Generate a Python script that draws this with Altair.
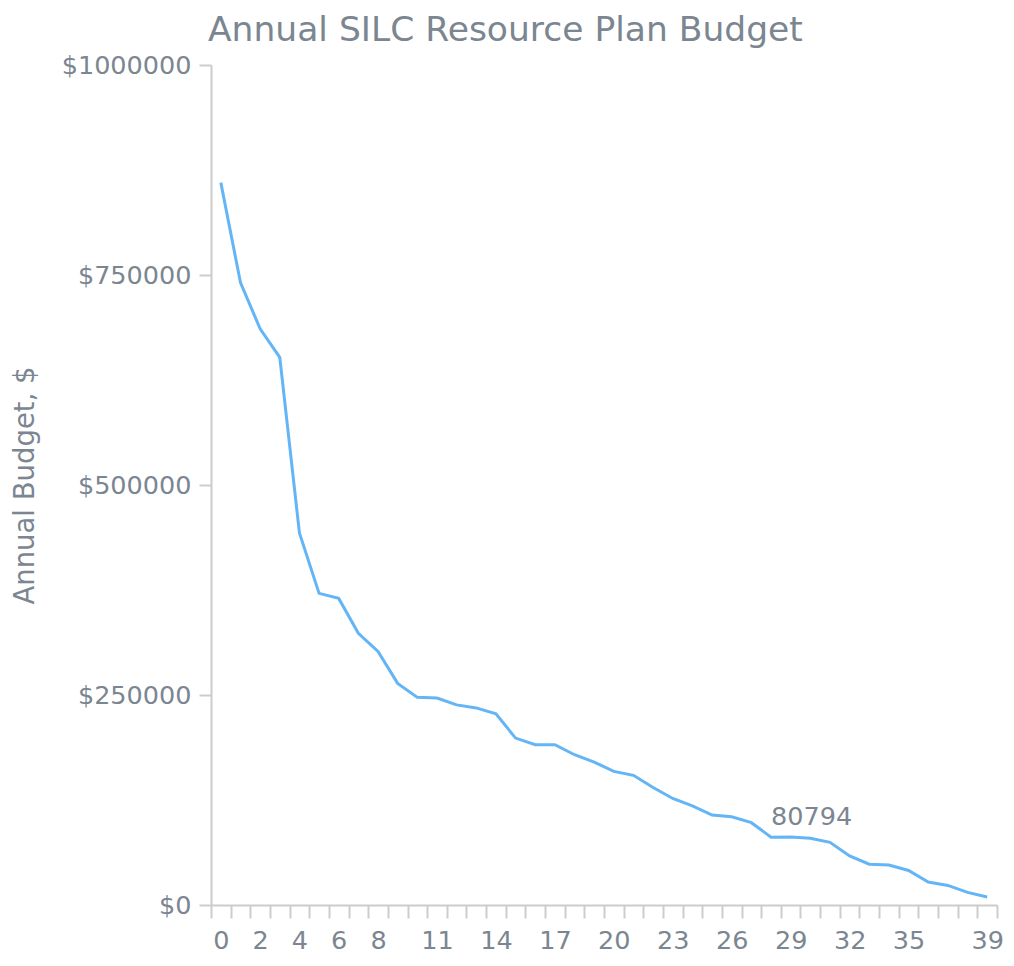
import altair as alt
import pandas as pd

# Data
index = list(range(40))
budget = [860000, 741000, 686000, 652000, 443000, 371000, 365000, 323500, 301800, 263800,
          247200, 246400, 238200, 234600, 227500, 198700, 190800, 190800, 178900, 170200,
          159100, 154400, 139800, 126800, 118000, 107000, 105100, 98000, 80794, 81000,
          79500, 74600, 58400, 48600, 47700, 41100, 27300, 23300, 15000, 9500]
x_labels = [0, 2, 4, 6, 8, 11, 14, 17, 20, 23, 26, 29, 32, 35, 39]
y_ticks = [0, 250000, 500000, 750000, 1000000]
annotated_index = 28

df = pd.DataFrame({"idx": index, "budget": budget})

FONT = "DejaVu Sans"
TEXT = "#7b8691"
AXIS = "#cccccc"
LINE = "#64b5f6"

W, H = 786, 840

label_list = ",".join(str(v) for v in x_labels)

x_scale = alt.Scale(type="band", paddingInner=0, paddingOuter=0)

x_enc = alt.X(
    "idx:O",
    scale=x_scale,
    axis=alt.Axis(
        tickBand="extent",
        labelExpr=f"indexof([{label_list}], toNumber(datum.value)) >= 0 ? datum.label : ''",
        labelAngle=0,
        labelOverlap=False,
        labelBound=False,
        labelFlush=False,
        title=None,
        grid=False,
        domainColor=AXIS,
        domainWidth=2,
        tickColor=AXIS,
        tickWidth=2,
        tickSize=13,
        labelPadding=10,
        labelFont=FONT,
        labelFontSize=25.5,
        labelColor=TEXT,
    ),
)

y_enc = alt.Y(
    "budget:Q",
    scale=alt.Scale(domain=[0, 1000000], nice=False),
    axis=alt.Axis(
        values=y_ticks,
        labelExpr="'$' + toString(datum.value)",
        title="Annual Budget, $",
        titleFont=FONT,
        titleFontSize=27.5,
        titleFontWeight="normal",
        titleColor=TEXT,
        titlePadding=22,
        grid=False,
        domainColor=AXIS,
        domainWidth=2,
        tickColor=AXIS,
        tickWidth=2,
        tickSize=12,
        labelPadding=8,
        labelFont=FONT,
        labelFontSize=25.5,
        labelColor=TEXT,
        labelOverlap=False,
        labelBound=False,
        labelFlush=False,
    ),
)

line = alt.Chart(df).mark_line(color=LINE, strokeWidth=3).encode(x=x_enc, y=y_enc)

annot = (
    alt.Chart(df)
    .transform_filter(alt.datum.idx == annotated_index)
    .mark_text(align="left", baseline="middle", dx=0, dy=-20, font=FONT, fontSize=25.5, color=TEXT)
    .encode(x=alt.X("idx:O", scale=x_scale), y="budget:Q", text="budget:Q")
)

chart = (
    alt.layer(line, annot)
    .properties(
        width=W,
        height=H,
        autosize=alt.AutoSizeParams(type="none"),
        padding={"left": 203, "top": 57, "right": 9, "bottom": 49},
        title=alt.TitleParams(
            "Annual SILC Resource Plan Budget",
            font=FONT,
            fontSize=34.5,
            fontWeight="normal",
            color=TEXT,
            anchor="start",
            frame="group",
            dx=-3,
            offset=5,
        ),
    )
    .configure_view(stroke=None)
)

chart.save("out.html", embed_options={"renderer": "svg", "actions": False})
